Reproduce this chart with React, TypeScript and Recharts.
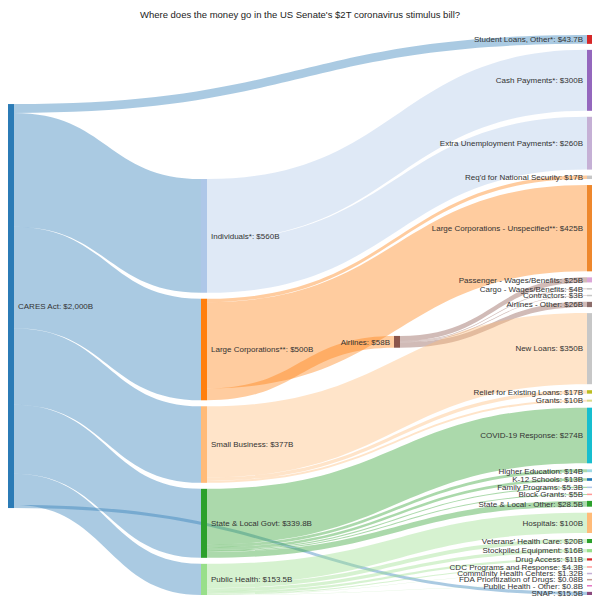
import { Sankey, Layer } from "recharts";

// node names, in the order they should be stacked in each column
const nodeNames = [
  "CARES Act",
  "Individuals*",
  "Large Corporations**",
  "Small Business",
  "State & Local Govt",
  "Public Health",
  "Airlines",
  "Student Loans, Other*",
  "Cash Payments*",
  "Extra Unemployment Payments*",
  "Req'd for National Security",
  "Large Corporations - Unspecified**",
  "Passenger - Wages/Benefits",
  "Cargo - Wages/Benefits",
  "Contractors",
  "Airlines - Other",
  "New Loans",
  "Relief for Existing Loans",
  "Grants",
  "COVID-19 Response",
  "Higher Education",
  "K-12 Schools",
  "Family Programs",
  "Block Grants",
  "State & Local - Other",
  "Hospitals",
  "Veterans' Health Care",
  "Stockpiled Equipment",
  "Drug Access",
  "CDC Programs and Response",
  "Community Health Centers",
  "FDA Prioritization of Drugs",
  "Public Health - Other",
  "SNAP",
];

const nodeAmounts = [
  "$2,000B", "$560B", "$500B", "$377B", "$339.8B", "$153.5B", "$58B",
  "$43.7B", "$300B", "$260B", "$17B", "$425B", "$25B", "$4B", "$3B", "$26B",
  "$350B", "$17B", "$10B", "$274B", "$14B", "$13B", "$5.3B", "$5B", "$28.5B",
  "$100B", "$20B", "$16B", "$11B", "$4.3B", "$1.32B", "$0.08B", "$0.8B", "$15.5B",
];

const nodeColors = [
  "#2b7bb6", "#aec7e8", "#ff7f0e", "#ffbb78", "#2ca02c", "#98df8a", "#8c564b",
  "#d62728", "#9467bd", "#c5b0d5", "#c7c7c7", "#ee872c", "#dba6d8", "#c7c7c7",
  "#c7c7c7", "#8c6d6b", "#c7c7c7", "#bcbd22", "#dbdb8d", "#17becf", "#9edae5",
  "#1f77b4", "#aec7e8", "#ff9896", "#2ca02c", "#ffbb78", "#2ca02c", "#98df8a",
  "#d62728", "#ff9896", "#c5b0d5", "#c49c94", "#e377c2", "#8a4a7e",
];

// flows: from, to, $B
const linkFrom = [
  "CARES Act", "CARES Act", "CARES Act", "CARES Act", "CARES Act", "CARES Act", "CARES Act",
  "Individuals*", "Individuals*",
  "Large Corporations**", "Large Corporations**", "Large Corporations**",
  "Airlines", "Airlines", "Airlines", "Airlines",
  "Small Business", "Small Business", "Small Business",
  "State & Local Govt", "State & Local Govt", "State & Local Govt",
  "State & Local Govt", "State & Local Govt", "State & Local Govt",
  "Public Health", "Public Health", "Public Health", "Public Health",
  "Public Health", "Public Health", "Public Health", "Public Health",
];
const linkTo = [
  "Student Loans, Other*", "Individuals*", "Large Corporations**", "Small Business",
  "State & Local Govt", "Public Health", "SNAP",
  "Cash Payments*", "Extra Unemployment Payments*",
  "Req'd for National Security", "Large Corporations - Unspecified**", "Airlines",
  "Passenger - Wages/Benefits", "Cargo - Wages/Benefits", "Contractors", "Airlines - Other",
  "New Loans", "Relief for Existing Loans", "Grants",
  "COVID-19 Response", "Higher Education", "K-12 Schools",
  "Family Programs", "Block Grants", "State & Local - Other",
  "Hospitals", "Veterans' Health Care", "Stockpiled Equipment", "Drug Access",
  "CDC Programs and Response", "Community Health Centers",
  "FDA Prioritization of Drugs", "Public Health - Other",
];
const linkValues = [
  43.7, 560, 500, 377, 339.8, 153.5, 15.5,
  300, 260,
  17, 425, 58,
  25, 4, 3, 26,
  350, 17, 10,
  274, 14, 13, 5.3, 5, 28.5,
  100, 20, 16, 11, 4.3, 1.32, 0.08, 0.8,
];

const data = {
  nodes: nodeNames.map((name, i) => ({
    name,
    amount: nodeAmounts[i],
    color: nodeColors[i],
  })),
  links: linkFrom.map((from, i) => ({
    source: nodeNames.indexOf(from),
    target: nodeNames.indexOf(linkTo[i]),
    value: linkValues[i],
  })),
};

const FONT = "'Liberation Sans', Arial, sans-serif";

// filled band instead of a thick stroke, so neighbouring flows tile cleanly
function SankeyLink(props: any) {
  const {
    sourceX, sourceY, sourceControlX,
    targetX, targetY, targetControlX,
    linkWidth, payload,
  } = props;
  const h = linkWidth / 2;
  const d =
    `M${sourceX},${sourceY - h}` +
    ` C${sourceControlX},${sourceY - h} ${targetControlX},${targetY - h} ${targetX},${targetY - h}` +
    ` L${targetX},${targetY + h}` +
    ` C${targetControlX},${targetY + h} ${sourceControlX},${sourceY + h} ${sourceX},${sourceY + h} Z`;
  return <path d={d} fill={payload.source.color} fillOpacity={0.4} stroke="none" />;
}

function SankeyNode(props: any) {
  const { x, y, width, height, payload } = props;
  const labelLeft = payload.depth >= 2;
  const cy = y + height / 2;
  const tiny = height < 1.5;
  return (
    <Layer>
      <rect
        x={x}
        y={tiny ? cy - 0.75 : y}
        width={width}
        height={tiny ? 1.5 : height}
        fill={payload.color}
      />
      <text
        x={labelLeft ? x - 4 : x + width + 4}
        y={cy}
        dy="0.35em"
        textAnchor={labelLeft ? "end" : "start"}
        fontSize={8}
        fontFamily={FONT}
        fill="#333"
      >
        {`${payload.name}: ${payload.amount}`}
      </text>
    </Layer>
  );
}

export default function App() {
  return (
    <div
      style={{
        position: "relative",
        width: 600,
        height: 605,
        margin: -8,
        overflow: "hidden",
        background: "#fff",
      }}
    >
      <div
        style={{
          position: "absolute",
          top: 9,
          left: 0,
          width: 600,
          textAlign: "center",
          fontFamily: FONT,
          fontSize: 9.5,
          color: "#222",
        }}
      >
        Where does the money go in the US Senate's $2T coronavirus stimulus bill?
      </div>
      <Sankey
        width={600}
        height={605}
        data={data}
        node={SankeyNode}
        link={SankeyLink}
        nodeWidth={6}
        nodePadding={6}
        iterations={32}
        sort={false}
        margin={{ top: 35, left: 8, right: 7, bottom: 10 }}
      />
    </div>
  );
}
